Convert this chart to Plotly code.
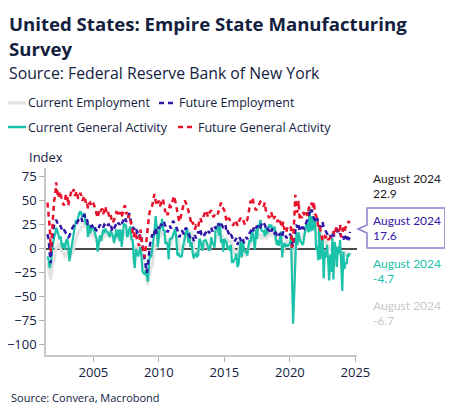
import pandas as pd
import plotly.graph_objects as go

# monthly readings, Jul 2001 .. Aug 2024
start = "2001-07-01"

current_activity = [
    -8, -12, -20, -15, -3, 8,
    12, 15, 22, 19, 14, 10, 13, 3, 1, 6, -1, 8,
    10, 5, -13, -6, 3, 9, 15, 20, 30, 27, 33, 37,
    39, 36, 33, 36, 35, 25, 30, 12, 25, 16, 19, 23,
    22, 17, 12, 10, -3, 4, 14, 8, 17, 20, 16, 21,
    18, 17, 15, 12, 19, 16, 13, 6, 15, 20, 12, 20,
    8, 20, 2, 13, 26, 25, 24, 12, 15, 21, 23, 10,
    9, -12, -20, 0, -3, -8, -4, 2, -8, -24, -25, -27,
    -22, -30, -34, -14, -5, -9, 0, 12, 18, 34, 23, 2,
    15, 24, 22, 31, 19, 20, 5, 7, 4, -11, 11, 10,
    11, 15, 17, 21, 11, -7, -4, -8, -8, -8, 1, 9,
    13, 20, 20, 6, 17, 2, 7, -5, -10, -6, -5, -8,
    -7, 10, 9, 3, -2, 8, 9, 9, 6, 1, -2, 1,
    12, 5, 6, 1, 19, 20, 25, 14, 27, 6, 10, -3,
    10, 8, 7, -1, 3, -2, 4, -14, -14, -12, -10, -5,
    -19, -16, 1, 9, -9, 7, 0, -4, -2, -7, 2, 9,
    7, 18, 16, 5, -1, 20, 10, 25, 24, 30, 19, 18,
    18, 13, 22, 15, 20, 25, 22, 25, 19, 21, 23, 11,
    4, 9, 3, 10, 18, -9, 4, 5, 2, 4, 3, 4,
    5, 13, -21, -78, -48, 0, 17, 4, 17, 10, 7, 5,
    4, 13, 17, 26, 24, 17, 43, 18, 34, 19, 30, 31,
    -1, 3, -12, 25, -11, -1, 11, -31, -2, -9, 4, -11,
    -33, -6, -24, 11, -32, 7, 1, -19, 2, -5, 9, -14,
    -44, -3, -21, -14, -16, -6, -7, -4.7,
]

current_employment = [
    -15, -20, -28, -32, -22, -12,
    -12, -5, 2, 0, 6, 3, 1, -4, -2, -6, -9, -5,
    -3, -4, -10, -9, -4, -4, 2, 5, 10, 12, 16, 18,
    20, 24, 22, 27, 24, 22, 26, 17, 19, 14, 14, 16,
    14, 12, 10, 7, 4, 5, 8, 10, 9, 15, 13, 14,
    15, 14, 17, 16, 16, 14, 10, 8, 12, 13, 10, 12,
    10, 12, 8, 12, 15, 16, 17, 13, 14, 13, 16, 8,
    7, 4, -2, 1, 3, 2, -3, -2, 1, -8, -14, -24,
    -24, -32, -38, -27, -25, -18, -19, -7, -2, 5, 1, 3,
    12, 13, 12, 19, 16, 17, 13, 8, 8, 2, 5, 4,
    10, 13, 17, 18, 14, 10, 8, 1, -3, 2, 5, 1,
    13, 15, 18, 18, 14, 13, 17, 16, -4, -1, -3, -3,
    -2, 2, 4, 4, 0, 3, 1, 6, 3, 5, -2, 1,
    6, 4, 6, 6, 8, 13, 14, 14, 11, 9, 15, 3,
    4, 12, 10, 9, 7, 5, 9, 5, -1, -3, -6, -7,
    -7, -2, 2, 1, -5, -3, -4, -8, -2, -4, 3, 6,
    5, 13, 16, 9, 7, 13, 14, 16, 12, 16, 10, 14,
    12, 14, 14, 10, 16, 15, 19, 13, 15, 16, 19, 7,
    10, 9, 9, 12, 11, 4, -4, 2, 5, 9, 7, 3,
    4, 8, -2, -45, -6, 1, 0, 6, 7, 8, 13, 11,
    11, 16, 15, 22, 23, 20, 23, 27, 24, 22, 21, 24,
    18, 15, 15, 20, 18, 13, 8, 11, 5, 8, 4, 2,
    -1, 4, -2, 2, -4, -4, -7, -4, 0, -1, -3, -8,
    -4, -5, -6, -3, -7, -5, -5, -6.7,
]

future_employment = [
    15, 10, -5, -15, 8, 20,
    25, 28, 30, 27, 25, 26, 23, 20, 18, 20, 17, 16,
    15, 12, 13, 18, 20, 22, 24, 25, 28, 27, 29, 31,
    30, 32, 28, 34, 35, 30, 31, 26, 27, 25, 23, 24,
    22, 24, 20, 19, 18, 22, 25, 23, 24, 22, 25, 24,
    22, 24, 26, 23, 25, 20, 18, 21, 23, 26, 24, 27,
    25, 28, 26, 29, 31, 33, 28, 30, 34, 37, 30, 27,
    24, 20, 23, 22, 17, 18, 12, 16, 9, 2, -3, -12,
    -18, -25, -15, -3, 5, 10, 15, 12, 18, 22, 16, 21,
    23, 20, 26, 24, 28, 27, 22, 20, 17, 22, 24, 21,
    26, 29, 27, 25, 23, 20, 14, 12, 16, 19, 17, 15,
    20, 22, 18, 15, 13, 11, 10, 12, 8, 14, 11, 13,
    18, 16, 20, 15, 14, 12, 15, 17, 18, 20, 16, 19,
    22, 18, 20, 23, 21, 26, 27, 24, 28, 25, 24, 22,
    22, 25, 17, 19, 16, 13, 15, 12, 10, 7, 9, 11,
    4, 8, 12, 9, 7, 10, 6, 8, 12, 10, 14, 16,
    18, 20, 17, 22, 19, 21, 24, 22, 20, 23, 25, 24,
    27, 25, 22, 24, 20, 19, 22, 18, 21, 19, 16, 17,
    15, 17, 14, 16, 13, 12, 18, 15, 13, 11, 14, 16,
    15, 14, 6, 2, 12, 20, 25, 22, 26, 18, 20, 22,
    22, 21, 24, 28, 30, 33, 38, 36, 41, 34, 32, 30,
    28, 32, 26, 25, 22, 24, 28, 22, 20, 17, 15, 14,
    12, 14, 11, 16, 13, 15, 19, 20, 17, 14, 16, 12,
    10, 13, 8, 12, 11, 14, 9, 17.6,
]

future_activity = [
    48, 37, 22, -3, 20, 38,
    50, 55, 69, 58, 53, 60, 55, 50, 48, 45, 53, 57,
    55, 45, 52, 57, 60, 58, 62, 55, 58, 60, 52, 55,
    58, 55, 50, 53, 55, 48, 50, 42, 47, 48, 45, 48,
    47, 44, 40, 35, 32, 38, 42, 40, 42, 36, 40, 44,
    38, 40, 36, 32, 35, 27, 28, 30, 34, 38, 37, 40,
    36, 38, 33, 40, 43, 45, 36, 38, 32, 35, 30, 25,
    20, 12, 18, 15, 9, 5, 3, 20, 12, 1, -5, -9,
    3, 15, 25, 35, 40, 42, 45, 52, 57, 50, 45, 48,
    50, 44, 47, 52, 50, 45, 38, 40, 35, 40, 45, 44,
    48, 52, 55, 50, 42, 38, 32, 28, 33, 38, 45, 48,
    50, 47, 44, 40, 35, 30, 25, 28, 22, 20, 24, 23,
    22, 30, 32, 28, 30, 34, 38, 40, 37, 33, 37, 39,
    40, 36, 33, 35, 37, 38, 36, 40, 45, 48, 44, 42,
    40, 35, 28, 30, 32, 30, 27, 26, 24, 27, 25, 28,
    24, 28, 30, 32, 29, 30, 27, 25, 28, 30, 36, 45,
    50, 48, 52, 45, 43, 40, 42, 44, 46, 49, 48, 47,
    44, 48, 40, 37, 33, 32, 35, 38, 32, 30, 34, 30,
    28, 30, 26, 29, 26, 22, 28, 20, 22, 18, 24, 24,
    23, 22, 1, 7, 30, 56, 38, 39, 50, 30, 34, 32,
    38, 36, 37, 40, 34, 40, 45, 44, 48, 42, 49, 36,
    35, 30, 23, 25, 18, 12, 8, 10, 13, 12, 14, 10,
    10, 12, 13, 15, 18, 14, 20, 23, 22, 18, 25, 12,
    16, 22, 18, 22, 26, 26, 29, 22.9,
]

dates = pd.date_range(start, periods=len(current_activity), freq="MS")

NAVY = "#13213f"
GREY = "#e3e3e3"
TEAL = "#19c2a8"
PURPLE = "#3115a8"
RED = "#e8122c"
FONT = "Open Sans"

# the page puts the figure 8px in from the window edge
OFF = 8
W, H = 453 - 2 * OFF, 417 - 2 * OFF
# plot box in window pixels (used to place the extra text and legend)
L, R, T, B = 46, 357, 168, 355


def px(x):
    return (x - L) / (R - L)


def py(y):
    return (B - y) / (B - T)


fig = go.Figure()
fig.add_trace(go.Scatter(x=dates, y=current_employment, mode="lines",
                         line=dict(color=GREY, width=3), name="Current Employment"))
fig.add_trace(go.Scatter(x=dates, y=current_activity, mode="lines",
                         line=dict(color=TEAL, width=2.2), name="Current General Activity"))
fig.add_trace(go.Scatter(x=dates, y=future_employment, mode="lines",
                         line=dict(color=PURPLE, width=2.5, dash="5px,4px"), name="Future Employment"))
fig.add_trace(go.Scatter(x=dates, y=future_activity, mode="lines",
                         line=dict(color=RED, width=2.5, dash="5px,4px"), name="Future General Activity"))

ann = []
shapes = []


def text(x, y, s, size=13, color=NAVY, bold=False, family=FONT):
    ann.append(dict(x=px(x), y=py(y), xref="paper", yref="paper", text=s,
                    showarrow=False, xanchor="left", yanchor="middle",
                    font=dict(family=family, size=size, color=color,
                              weight="bold" if bold else "normal")))


text(7, 23, "United States: Empire State Manufacturing", size=18.6, bold=True)
text(7, 49, "Survey", size=18.6, bold=True)
text(7, 73, "Source: Federal Reserve Bank of New York", size=15.8)
text(9, 397, "Source: Convera, Macrobond", size=11)
text(27, 157, "Index", size=13)

# legend
legend_items = [
    (8, 103, GREY, "solid", 3, "Current Employment"),
    (159, 103, PURPLE, "5px,4px", 2.5, "Future Employment"),
    (8, 127, TEAL, "solid", 2.5, "Current General Activity"),
    (178, 127, RED, "5px,4px", 2.5, "Future General Activity"),
]
for x0, y0, c, d, w, label in legend_items:
    shapes.append(dict(type="line", xref="paper", yref="paper",
                       x0=px(x0), x1=px(x0 + 18), y0=py(y0), y1=py(y0),
                       line=dict(color=c, dash=d, width=w)))
    text(x0 + 18, y0, label, size=12.5)

# end-of-series labels
shapes.append(dict(type="path", xref="paper", yref="paper",
                   path="M {a},{t} L {b},{t} L {b},{bt} L {a},{bt} L {a},{n2} L {tip},{m} L {a},{n1} Z".format(
                       a=px(367), b=px(445), t=py(208), bt=py(248), n1=py(225), n2=py(233),
                       tip=px(358), m=py(229)),
                   line=dict(color="#8a7fd0", width=1.5), fillcolor="white"))
labels = [
    (178, "August 2024", "#1b1b24"), (193, f"{future_activity[-1]}", "#1b1b24"),
    (220, "August 2024", PURPLE), (235, f"{future_employment[-1]}", PURPLE),
    (263, "August 2024", TEAL), (278, f"{current_activity[-1]}", TEAL),
    (305, "August 2024", "#c9c9c9"), (320, f"{current_employment[-1]}", "#c9c9c9"),
]
for y0, s, c in labels:
    text(371, y0, s, size=12, color=c, family="Lato")

fig.update_layout(
    width=W, height=H,
    margin=dict(l=L - OFF, r=453 - OFF - R, t=T - OFF, b=417 - OFF - B),
    paper_bgcolor="white", plot_bgcolor="white",
    showlegend=False,
    font=dict(family=FONT, size=13, color=NAVY),
    annotations=ann, shapes=shapes,
    xaxis=dict(range=["2001-05-20", "2025-02-15"], showgrid=False, automargin=False,
               tickvals=["2005-01-01", "2010-01-01", "2015-01-01", "2020-01-01", "2025-01-01"],
               ticktext=["2005", "2010", "2015", "2020", "2025"],
               ticks="outside", ticklen=5, tickcolor="#b0b0b0",
               showline=True, linecolor="#c8c8c8", linewidth=1.5),
    yaxis=dict(range=[-110.5, 84], showgrid=False, automargin=False,
               tickvals=list(range(-100, 76, 25)),
               ticks="outside", ticklen=5, tickcolor="#b0b0b0",
               showline=True, linecolor="#c8c8c8", linewidth=1.5,
               zeroline=True, zerolinecolor="#4a4a4a", zerolinewidth=1.5),
)

fig.write_html("out.html")
